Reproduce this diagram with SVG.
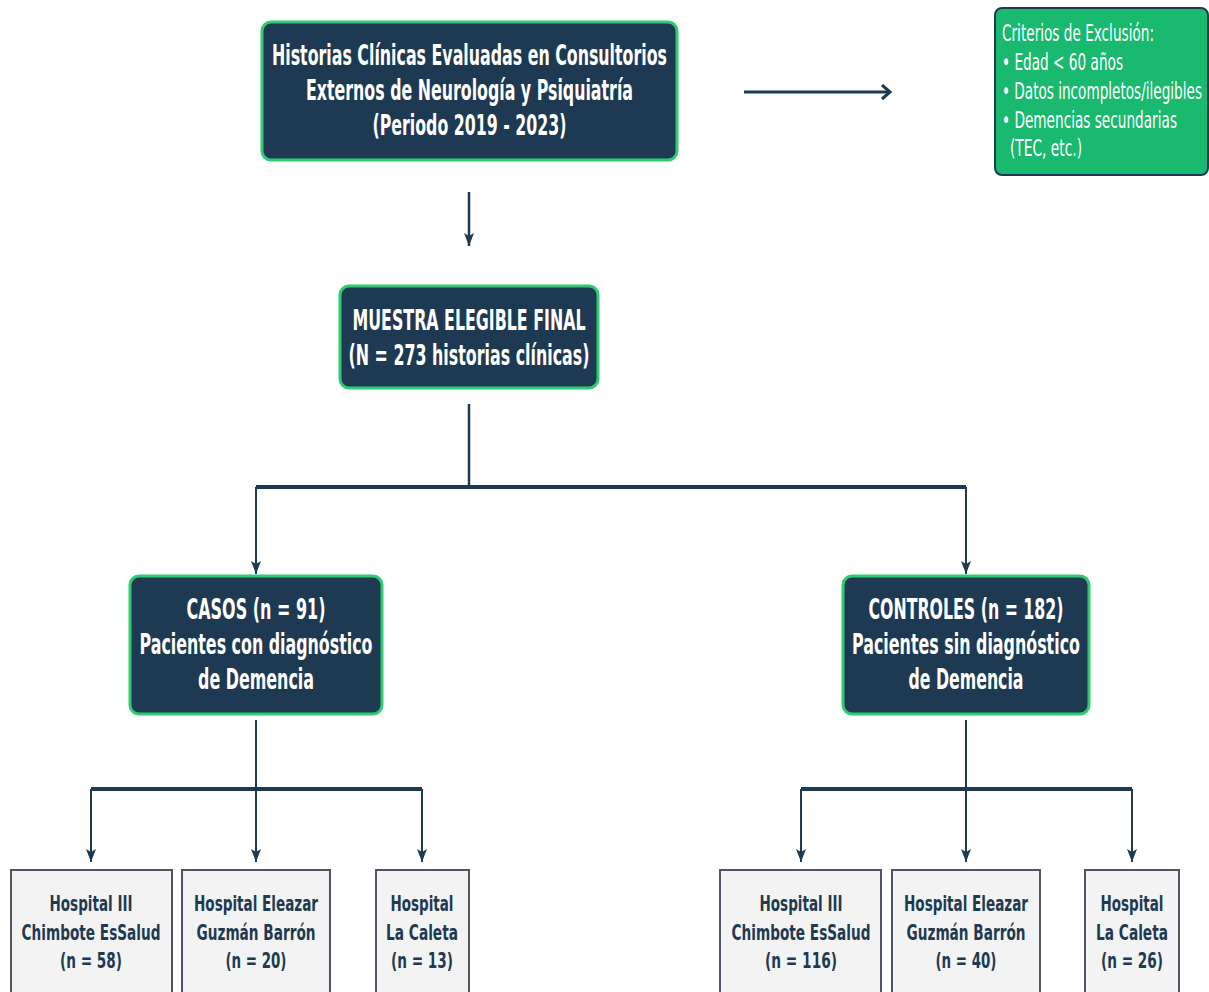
<svg xmlns="http://www.w3.org/2000/svg" width="1209" height="992" viewBox="0 0 1209 992">
<style>
.main rect{fill:#1e3a52;stroke:#2ecc71;stroke-width:3}
.main text{font-family:"DejaVu Sans",sans-serif;font-weight:bold;font-size:29px;fill:#ffffff;text-anchor:middle}
.hosp rect{fill:#f3f3f3;stroke:#4f5563;stroke-width:2}
.hosp text{font-family:"DejaVu Sans",sans-serif;font-weight:bold;font-size:22px;fill:#1e3a52;text-anchor:middle}
.excl text{font-family:"DejaVu Sans",sans-serif;font-size:23px;fill:#ffffff}
.conn line{stroke:#1e3a52;fill:none}
</style>
<defs>
<marker id="ah" markerUnits="userSpaceOnUse" markerWidth="14" markerHeight="12" refX="13" refY="5" orient="auto">
<path d="M0,0 L13,5 L0,10 L3,5 z" fill="#1e3a52"/>
</marker>
<marker id="oh" markerUnits="userSpaceOnUse" markerWidth="14" markerHeight="18" refX="11" refY="8" orient="auto">
<polyline points="3,1 11,8 3,15" fill="none" stroke="#1e3a52" stroke-width="3"/>
</marker>
</defs>
<rect width="1209" height="992" fill="#ffffff"/>
<g id="connectors" class="conn">
<line x1="469" y1="192" x2="469" y2="246" stroke-width="2.5" marker-end="url(#ah)"/>
<line x1="744" y1="92" x2="890" y2="92" stroke-width="3" marker-end="url(#oh)"/>
<line x1="469" y1="404" x2="469" y2="487" stroke-width="2.5"/>
<line x1="256" y1="487" x2="966" y2="487" stroke-width="4"/>
<line x1="256" y1="487" x2="256" y2="574" stroke-width="2" marker-end="url(#ah)"/>
<line x1="966" y1="487" x2="966" y2="574" stroke-width="2" marker-end="url(#ah)"/>
<line x1="256" y1="720" x2="256" y2="789" stroke-width="2"/>
<line x1="91" y1="789" x2="422" y2="789" stroke-width="4"/>
<line x1="91" y1="789" x2="91" y2="862" stroke-width="2" marker-end="url(#ah)"/>
<line x1="256" y1="789" x2="256" y2="862" stroke-width="2" marker-end="url(#ah)"/>
<line x1="422" y1="789" x2="422" y2="862" stroke-width="2" marker-end="url(#ah)"/>
<line x1="966" y1="720" x2="966" y2="789" stroke-width="2"/>
<line x1="801" y1="789" x2="1132" y2="789" stroke-width="4"/>
<line x1="801" y1="789" x2="801" y2="862" stroke-width="2" marker-end="url(#ah)"/>
<line x1="966" y1="789" x2="966" y2="862" stroke-width="2" marker-end="url(#ah)"/>
<line x1="1132" y1="789" x2="1132" y2="862" stroke-width="2" marker-end="url(#ah)"/>
</g>
<g id="historias" class="main">
<rect x="262" y="22" width="415" height="138" rx="9"/>
<text x="469.5" y="65" textLength="395" lengthAdjust="spacingAndGlyphs">Historias Clínicas Evaluadas en Consultorios</text>
<text x="469.5" y="100" textLength="327" lengthAdjust="spacingAndGlyphs">Externos de Neurología y Psiquiatría</text>
<text x="469.5" y="135" textLength="194" lengthAdjust="spacingAndGlyphs">(Periodo 2019 - 2023)</text>
</g>
<g id="exclusion" class="excl">
<rect x="995" y="8" width="213" height="167" rx="7" fill="#19b96f" stroke="#1e3a52" stroke-width="2"/>
<text x="1002" y="41" textLength="152" lengthAdjust="spacingAndGlyphs">Criterios de Exclusión:</text>
<text x="1002" y="70" textLength="121" lengthAdjust="spacingAndGlyphs">• Edad &lt; 60 años</text>
<text x="1002" y="99" textLength="200" lengthAdjust="spacingAndGlyphs">• Datos incompletos/ilegibles</text>
<text x="1002" y="128" textLength="175" lengthAdjust="spacingAndGlyphs">• Demencias secundarias</text>
<text x="1010" y="156" textLength="72" lengthAdjust="spacingAndGlyphs">(TEC, etc.)</text>
</g>
<g id="muestra" class="main">
<rect x="340" y="286" width="258" height="102" rx="9"/>
<text x="469" y="330" textLength="233" lengthAdjust="spacingAndGlyphs">MUESTRA ELEGIBLE FINAL</text>
<text x="469" y="365" textLength="241" lengthAdjust="spacingAndGlyphs">(N = 273 historias clínicas)</text>
</g>
<g id="casos" class="main">
<rect x="130" y="576" width="252" height="138" rx="9"/>
<text x="256" y="619" textLength="139" lengthAdjust="spacingAndGlyphs">CASOS (n = 91)</text>
<text x="256" y="654" textLength="233" lengthAdjust="spacingAndGlyphs">Pacientes con diagnóstico</text>
<text x="256" y="689" textLength="116" lengthAdjust="spacingAndGlyphs">de Demencia</text>
</g>
<g id="controles" class="main">
<rect x="843" y="576" width="246" height="138" rx="9"/>
<text x="966" y="619" textLength="195" lengthAdjust="spacingAndGlyphs">CONTROLES (n = 182)</text>
<text x="966" y="654" textLength="228" lengthAdjust="spacingAndGlyphs">Pacientes sin diagnóstico</text>
<text x="966" y="689" textLength="115" lengthAdjust="spacingAndGlyphs">de Demencia</text>
</g>
<g id="casos-h1" class="hosp">
<rect x="11" y="870" width="161" height="140"/>
<text x="91" y="911" textLength="83" lengthAdjust="spacingAndGlyphs">Hospital III</text>
<text x="91" y="940" textLength="139" lengthAdjust="spacingAndGlyphs">Chimbote EsSalud</text>
<text x="91" y="968" textLength="62" lengthAdjust="spacingAndGlyphs">(n = 58)</text>
</g>
<g id="casos-h2" class="hosp">
<rect x="182" y="870" width="148" height="140"/>
<text x="256" y="911" textLength="124" lengthAdjust="spacingAndGlyphs">Hospital Eleazar</text>
<text x="256" y="940" textLength="119" lengthAdjust="spacingAndGlyphs">Guzmán Barrón</text>
<text x="256" y="968" textLength="61" lengthAdjust="spacingAndGlyphs">(n = 20)</text>
</g>
<g id="casos-h3" class="hosp">
<rect x="376" y="870" width="93" height="140"/>
<text x="422" y="911" textLength="63" lengthAdjust="spacingAndGlyphs">Hospital</text>
<text x="422" y="940" textLength="72" lengthAdjust="spacingAndGlyphs">La Caleta</text>
<text x="422" y="968" textLength="62" lengthAdjust="spacingAndGlyphs">(n = 13)</text>
</g>
<g id="controles-h1" class="hosp">
<rect x="720" y="870" width="161" height="140"/>
<text x="801" y="911" textLength="83" lengthAdjust="spacingAndGlyphs">Hospital III</text>
<text x="801" y="940" textLength="139" lengthAdjust="spacingAndGlyphs">Chimbote EsSalud</text>
<text x="801" y="968" textLength="72" lengthAdjust="spacingAndGlyphs">(n = 116)</text>
</g>
<g id="controles-h2" class="hosp">
<rect x="892" y="870" width="148" height="140"/>
<text x="966" y="911" textLength="124" lengthAdjust="spacingAndGlyphs">Hospital Eleazar</text>
<text x="966" y="940" textLength="119" lengthAdjust="spacingAndGlyphs">Guzmán Barrón</text>
<text x="966" y="968" textLength="61" lengthAdjust="spacingAndGlyphs">(n = 40)</text>
</g>
<g id="controles-h3" class="hosp">
<rect x="1085" y="870" width="94" height="140"/>
<text x="1132" y="911" textLength="63" lengthAdjust="spacingAndGlyphs">Hospital</text>
<text x="1132" y="940" textLength="72" lengthAdjust="spacingAndGlyphs">La Caleta</text>
<text x="1132" y="968" textLength="62" lengthAdjust="spacingAndGlyphs">(n = 26)</text>
</g>
</svg>
